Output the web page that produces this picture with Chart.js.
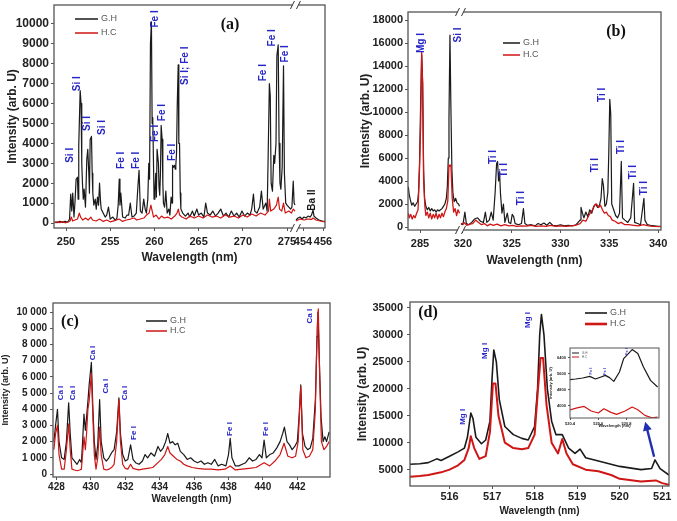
<!DOCTYPE html>
<html>
<head>
<meta charset="utf-8">
<script src="https://cdn.jsdelivr.net/npm/chart.js@4.4.1/dist/chart.umd.min.js"></script>
<style>
html, body { margin: 0; padding: 0; background: #fff; }
body { width: 677px; height: 521px; position: relative; overflow: hidden; }
canvas { position: absolute; }
</style>
</head>
<body>
<canvas id="pa" width="338" height="268" style="left:0px;top:0px"></canvas>
<canvas id="pb" width="337" height="268" style="left:340px;top:0px"></canvas>
<canvas id="pc" width="338" height="246" style="left:0px;top:275px"></canvas>
<canvas id="pd" width="337" height="246" style="left:340px;top:275px"></canvas>
<canvas id="pi" width="120" height="85" style="left:545px;top:343px"></canvas>
<script>
// ---- panel (a) : 248.6-276 nm, broken axis, 453-456 nm
const aGH = [[248.7,60],[249.0,20],[249.3,90],[249.6,30],[249.9,80],[250.2,40],[250.4,200],[250.53,1450],[250.65,600],[250.76,1500],[250.9,300],[251.02,1100],[251.14,2200],[251.29,2300],[251.37,1200],[251.44,3900],[251.6,6650],[251.7,6000],[251.78,3000],[251.86,2000],[251.95,1200],[252.05,1700],[252.2,800],[252.35,3200],[252.46,3700],[252.58,2500],[252.65,1500],[252.73,4200],[252.88,4350],[252.96,2500],[253.03,1500],[253.15,900],[253.3,1200],[253.42,700],[253.56,1300],[253.68,900],[253.79,2000],[253.9,1100],[253.98,700],[254.2,500],[254.43,300],[254.6,400],[254.8,800],[255.0,200],[255.3,300],[255.55,150],[255.76,250],[255.9,900],[256.02,2200],[256.1,900],[256.2,1500],[256.4,300],[256.7,250],[256.9,400],[257.08,400],[257.27,1000],[257.46,300],[257.7,350],[257.95,500],[258.14,1900],[258.26,2650],[258.41,600],[258.6,500],[258.79,1200],[258.95,700],[259.09,500],[259.25,1200],[259.36,3000],[259.45,2200],[259.55,9000],[259.66,10100],[259.74,5000],[259.81,5300],[259.96,1200],[260.05,1600],[260.15,2500],[260.22,1300],[260.3,3700],[260.45,3000],[260.52,1800],[260.6,1400],[260.68,2500],[260.76,4900],[260.87,4200],[260.95,2000],[261.02,1000],[261.15,800],[261.29,1600],[261.44,500],[261.63,700],[261.75,400],[261.89,1300],[262.0,1000],[262.05,2900],[262.15,2800],[262.27,2900],[262.35,2700],[262.42,2900],[262.5,3500],[262.58,5900],[262.69,7950],[262.76,4000],[262.84,4000],[262.92,1500],[262.99,700],[263.2,500],[263.5,350],[263.8,500],[264.0,300],[264.3,600],[264.5,350],[264.8,700],[265.0,400],[265.3,500],[265.6,300],[265.8,1000],[266.0,500],[266.3,400],[266.6,600],[266.9,350],[267.2,500],[267.5,700],[267.8,350],[268.1,500],[268.4,300],[268.7,600],[269.0,350],[269.3,500],[269.6,300],[269.9,600],[270.2,350],[270.5,500],[270.8,400],[271.0,700],[271.2,1450],[271.35,600],[271.6,500],[271.9,800],[272.1,1600],[272.3,700],[272.6,1000],[272.75,600],[272.85,3000],[273.0,7000],[273.1,6400],[273.2,2000],[273.35,1600],[273.5,3400],[273.6,3000],[273.75,4000],[273.85,8400],[274.0,8950],[274.1,4000],[274.2,2000],[274.3,1700],[274.45,2800],[274.6,7900],[274.7,2500],[274.85,1000],[275.0,900],[275.2,800],[275.4,700],[275.55,800],[275.7,2100],[275.8,1000],[275.9,900],
  [453.3,150],[453.5,250],[453.7,300],[453.9,200],[454.1,300],[454.3,250],[454.5,350],[454.7,300],[454.85,400],[455.0,650],[455.1,350],[455.3,250],[455.6,150],[455.9,100],[456.2,80]];
const aHC = [[248.7,0],[249.0,60],[249.3,20],[249.6,70],[249.9,10],[250.2,50],[250.45,100],[250.6,300],[250.75,100],[251.0,150],[251.3,200],[251.5,500],[251.65,300],[251.9,150],[252.2,250],[252.5,150],[252.8,300],[253.0,150],[253.4,100],[253.8,200],[254.2,80],[254.6,150],[255.0,60],[255.5,120],[256.0,200],[256.4,80],[256.8,150],[257.3,200],[257.7,250],[258.0,150],[258.4,200],[258.8,250],[259.1,400],[259.4,500],[259.6,900],[259.75,600],[259.9,300],[260.2,400],[260.5,200],[260.8,350],[261.1,250],[261.5,300],[261.9,200],[262.3,350],[262.55,500],[262.7,700],[262.85,400],[263.1,300],[263.6,200],[264.0,350],[264.5,250],[265.0,350],[265.5,250],[266.0,400],[266.5,300],[267.0,350],[267.5,250],[268.0,400],[268.5,300],[269.0,350],[269.5,250],[270.0,400],[270.5,300],[271.0,450],[271.5,350],[272.0,500],[272.5,400],[272.9,600],[273.0,1200],[273.15,600],[273.5,700],[273.8,900],[274.0,1300],[274.15,700],[274.4,600],[274.6,1000],[274.8,500],[275.2,600],[275.5,500],[275.7,700],[275.9,600],
  [453.3,100],[453.7,200],[454.1,150],[454.5,200],[454.85,180],[455.0,250],[455.3,150],[455.7,100],[456.2,60]];
const aXTicks = [250, 255, 260, 265, 270, 275, 454, 456];
const aYTicks = [0, 1000, 2000, 3000, 4000, 5000, 6000, 7000, 8000, 9000, 10000];
const aLabels = [['Si I',250.45,3400],['Si I',251.24,7000],['Si I',252.38,5000],['Si I',254.07,4800],['Fe I',256.22,3150],['Fe I',257.92,3150],['Fe I',260.07,10250],['Fe I',260.07,4500],['Fe I',260.86,5550],['Fe I',262.0,3550],['Si I; Fe I',263.46,7900],['Fe I',272.29,7550],['Fe I',273.3,9300],['Fe I',274.77,8500]];
const aBlackLabels = [['Ba II',454.9,1150]];

// ---- panel (b) : 283.8-289 nm, broken axis, 319.7-340.3 nm
const bGH = [[283.8,3500],[283.9,2800],[284.0,2400],[284.15,1900],[284.3,2100],[284.45,1800],[284.6,2000],[284.75,2200],[284.85,3000],[284.95,5500],[285.07,11000],[285.17,15000],[285.27,12500],[285.37,5000],[285.47,2500],[285.6,1800],[285.75,1500],[285.9,1700],[286.05,1400],[286.2,1600],[286.35,1400],[286.5,1500],[286.65,1300],[286.8,1500],[286.95,1400],[287.1,1500],[287.25,1600],[287.4,1800],[287.55,2000],[287.7,2500],[287.8,3500],[287.9,6000],[287.97,9500],[288.07,16700],[288.17,10200],[288.27,5000],[288.37,3000],[288.5,2200],[288.65,2500],[288.8,2100],[288.95,2000],[289.05,1800],
  [319.8,300],[320.0,200],[320.2,1300],[320.35,300],[320.6,200],[320.9,400],[321.2,700],[321.5,800],[321.8,500],[322.1,400],[322.3,1300],[322.45,400],[322.7,600],[322.9,1300],[323.1,600],[323.3,3000],[323.45,5500],[323.55,5700],[323.65,4000],[323.75,4800],[323.85,2900],[324.0,1200],[324.15,2000],[324.3,400],[324.55,1200],[324.7,400],[324.9,300],[325.05,1100],[325.2,900],[325.35,300],[325.7,200],[326.0,300],[326.2,1600],[326.35,300],[326.6,150],[327.0,200],[327.4,100],[327.7,300],[328.0,200],[328.3,350],[328.6,150],[328.9,400],[329.2,150],[329.6,100],[330.0,200],[330.4,100],[330.8,150],[331.2,100],[331.6,200],[332.0,600],[332.1,1700],[332.25,1200],[332.4,800],[332.6,1300],[332.8,900],[333.0,1500],[333.2,1200],[333.4,1800],[333.6,2000],[333.8,1700],[334.0,1900],[334.15,2500],[334.28,4200],[334.4,3600],[334.55,1800],[334.7,2000],[334.85,3000],[334.95,6500],[335.05,11100],[335.15,9800],[335.25,2000],[335.45,1500],[335.65,1000],[335.85,800],[336.05,1200],[336.23,5700],[336.35,800],[336.6,600],[336.9,400],[337.2,800],[337.49,3800],[337.6,400],[337.9,300],[338.2,200],[338.55,2500],[338.65,600],[338.9,200],[339.2,150],[339.6,100],[340.0,50],[340.3,50]];
const bHC = [[283.8,1200],[283.9,800],[284.05,1100],[284.2,700],[284.35,1000],[284.5,800],[284.65,1200],[284.8,1500],[284.95,5000],[285.07,9000],[285.17,15200],[285.27,12500],[285.37,4000],[285.5,1800],[285.6,1000],[285.75,1300],[285.9,800],[286.05,1200],[286.2,700],[286.35,1100],[286.5,800],[286.65,1200],[286.8,700],[286.95,1100],[287.1,800],[287.25,1200],[287.4,900],[287.55,1300],[287.7,1600],[287.85,2300],[287.97,5400],[288.07,5300],[288.17,5400],[288.3,2500],[288.45,1300],[288.6,1600],[288.75,1000],[288.9,1500],[289.05,1200],
  [319.8,200],[320.1,400],[320.4,150],[320.7,250],[321.0,300],[321.3,600],[321.6,400],[321.9,200],[322.2,300],[322.5,100],[322.8,250],[323.1,150],[323.5,250],[323.9,100],[324.3,200],[324.7,100],[325.1,150],[325.5,50],[326.0,100],[326.5,80],[327.0,150],[327.5,50],[328.0,100],[328.5,50],[329.0,150],[329.5,50],[330.0,100],[330.5,50],[331.0,100],[331.5,150],[332.0,300],[332.3,600],[332.6,500],[332.9,1000],[333.1,1300],[333.3,1500],[333.5,1900],[333.7,2000],[333.9,1700],[334.1,1900],[334.3,1500],[334.5,1200],[334.7,1300],[334.9,1000],[335.1,900],[335.3,600],[335.6,500],[335.9,300],[336.2,400],[336.6,200],[337.0,200],[337.5,150],[338.0,100],[338.5,200],[339.0,100],[339.5,60],[340.3,30]];
const bXTicks = [285, 320, 325, 330, 335, 340];
const bYTicks = [0, 2000, 4000, 6000, 8000, 10000, 12000, 14000, 16000, 18000];
const bLabels = [['Mg I',285.1,16000],['Si I',288.92,16700],['Ti I',323.13,6090],['Ti I',324.25,4950],['Ti I',325.99,2520],['Ti I',333.57,5390],['Ti I',334.28,11500],['Ti I',336.23,6960],['Ti I',337.46,4780],['Ti I',338.58,3390]];

// ---- panel (c) : 428-444 nm
const cGH = [[427.85,2000],[427.95,3000],[428.06,4000],[428.15,2000],[428.3,1000],[428.45,900],[428.58,2000],[428.71,4400],[428.8,2500],[428.9,1000],[429.05,800],[429.2,600],[429.35,900],[429.45,700],[429.52,2000],[429.6,3700],[429.68,2700],[429.75,3500],[429.83,4500],[429.9,5500],[430.03,6900],[430.12,4000],[430.2,2000],[430.3,900],[430.4,1800],[430.51,4600],[430.6,2000],[430.75,1000],[430.9,800],[431.05,1000],[431.2,1300],[431.35,1500],[431.5,2600],[431.63,4700],[431.72,2500],[431.85,1200],[432.0,800],[432.15,900],[432.31,1800],[432.45,900],[432.6,700],[432.8,600],[433.0,800],[433.15,1200],[433.3,1000],[433.5,1300],[433.7,1100],[433.9,1700],[434.05,1400],[434.2,1600],[434.35,2000],[434.47,2500],[434.6,1900],[434.75,2000],[434.9,1800],[435.05,1900],[435.2,1400],[435.4,1200],[435.6,900],[435.8,1000],[436.0,800],[436.2,700],[436.4,800],[436.6,600],[436.8,700],[437.0,600],[437.2,900],[437.4,500],[437.6,600],[437.85,500],[438.0,1200],[438.1,2200],[438.2,1000],[438.4,500],[438.6,500],[438.8,600],[439.0,700],[439.2,1000],[439.4,800],[439.6,900],[439.8,1200],[439.95,1000],[440.07,2100],[440.2,1000],[440.4,1200],[440.6,1300],[440.8,1600],[441.0,2000],[441.15,2500],[441.25,2900],[441.4,2000],[441.55,1800],[441.7,1500],[441.85,1700],[442.0,2000],[442.1,3500],[442.2,5500],[442.3,2500],[442.45,1700],[442.6,1500],[442.75,1600],[442.9,2200],[443.05,4600],[443.15,8500],[443.2,10000],[443.28,7000],[443.38,3500],[443.5,2000],[443.6,2300],[443.7,2000],[443.85,2600]];
const cHC = [[427.85,1500],[427.95,2500],[428.06,3000],[428.15,1200],[428.3,300],[428.45,300],[428.58,1500],[428.71,3100],[428.8,1500],[428.9,300],[429.05,250],[429.2,200],[429.35,250],[429.45,300],[429.52,1200],[429.6,2300],[429.68,1500],[429.75,2500],[429.83,4000],[429.9,4500],[430.03,6200],[430.12,3500],[430.2,1200],[430.3,300],[430.4,1000],[430.51,2900],[430.6,1200],[430.75,300],[430.9,250],[431.05,300],[431.2,400],[431.35,600],[431.5,2000],[431.63,4600],[431.72,2000],[431.85,600],[432.0,350],[432.15,300],[432.31,600],[432.45,350],[432.6,300],[432.8,250],[433.0,300],[433.3,350],[433.6,400],[433.9,700],[434.1,900],[434.3,1200],[434.47,1700],[434.6,1300],[434.8,1100],[435.0,900],[435.2,800],[435.4,600],[435.6,500],[435.9,400],[436.2,350],[436.6,300],[437.0,300],[437.4,250],[437.8,300],[438.1,500],[438.4,250],[438.8,300],[439.2,350],[439.6,400],[440.07,700],[440.4,500],[440.7,800],[441.0,1200],[441.23,1900],[441.45,1100],[441.7,1000],[441.9,1100],[442.05,2000],[442.2,5400],[442.32,1500],[442.5,1000],[442.7,1100],[442.9,1500],[443.05,4000],[443.15,9000],[443.22,10200],[443.3,6000],[443.4,2000],[443.55,1500],[443.7,1700],[443.85,2000]];
const cXTicks = [428, 430, 432, 434, 436, 438, 440, 442];
const cYTicks = [0, 1000, 2000, 3000, 4000, 5000, 6000, 7000, 8000, 9000, 10000];
const cLabels = [['Ca I',428.23,5000],['Ca I',428.93,5000],['Ca I',430.09,7470],['Ca I',430.84,5430],['Ca I',432.0,5000],['Fe I',432.52,2530],['Fe I',438.08,2780],['Fe I',440.17,2780],['Ca I',442.72,9750]];

// ---- panel (d) : 515-521 nm
const dGH = [[515.07,6000],[515.3,6100],[515.5,6300],[515.7,7000],[515.8,6700],[516.0,7500],[516.2,8300],[516.35,9000],[516.42,11000],[516.5,15500],[516.55,14500],[516.62,11000],[516.75,9800],[516.85,10500],[516.95,14000],[517.0,22000],[517.04,27200],[517.1,25000],[517.17,18000],[517.3,13000],[517.5,11500],[517.7,10800],[517.85,10500],[518.0,13000],[518.07,20000],[518.12,30000],[518.16,33800],[518.22,30000],[518.3,20000],[518.4,14000],[518.5,11500],[518.65,11500],[518.8,9000],[518.95,8000],[519.07,8800],[519.2,7200],[519.5,6600],[520.0,5600],[520.5,5000],[520.75,5200],[520.83,6800],[520.95,5200],[521.16,4000]];
const dHC = [[515.07,3700],[515.3,3800],[515.5,4000],[515.8,4500],[516.0,5000],[516.2,5800],[516.35,6800],[516.45,9000],[516.5,11200],[516.58,9000],[516.7,7000],[516.85,7500],[516.95,12000],[517.02,21000],[517.08,21000],[517.15,15000],[517.3,10000],[517.5,9000],[517.7,8800],[517.85,9000],[518.0,11500],[518.08,20000],[518.14,25700],[518.2,25700],[518.28,17000],[518.4,10000],[518.55,8000],[518.65,10700],[518.75,8000],[518.9,6000],[519.2,5000],[519.5,4700],[519.8,4000],[520.0,3300],[520.5,2800],[520.85,3000],[521.0,2500],[521.16,2200]];
const dXTicks = [516, 517, 518, 519, 520, 521];
const dYTicks = [5000, 10000, 15000, 20000, 25000, 30000, 35000];
const dLabels = [['Mg I',516.3,14800],['Mg I',516.84,27040],['Mg I',517.84,32780]];

// ---- inset of (d) : zoom round 520.8 nm
const iGH = [[520.4,5300],[520.44,5330],[520.49,5380],[520.54,5460],[520.58,5330],[520.62,5430],[520.65,5510],[520.68,5400],[520.71,5210],[520.75,5680],[520.78,6350],[520.84,6800],[520.88,6600],[520.92,5930],[520.97,5260],[521.02,4930]];
const iHC = [[520.4,3790],[520.45,3890],[520.5,3960],[520.55,3730],[520.6,3630],[520.64,3840],[520.69,3660],[520.73,3560],[520.79,3730],[520.84,3930],[520.88,3790],[520.93,3510],[520.98,3390],[521.02,3430]];
const iXTicks = [520.4, 520.6, 520.8];
const iYTicks = [4000, 4800, 5600, 6400];
const iLabels = [['Fe I',520.55,5730],['Fe I',520.65,5700],['Fe I',520.8,6700]];

const SANS = '"Liberation Sans", Arial, sans-serif';
const SERIF = '"Liberation Serif", "Times New Roman", serif';
const BLUE = '#2626c8';
const INK = '#1a1a1a';
const FRAME = '#555';

function mapA(w) { return w < 400 ? w : 275.9 + (w - 453.2) * 1.131; }
function mapB(w) { return w < 300 ? w : w - 30.6; }
function same(w) { return w; }

// build points, with a null gap where the wavelength jumps across an axis break
function pts(pairs, map) {
  const out = [];
  pairs.forEach((p, i) => {
    if (i > 0 && p[0] - pairs[i - 1][0] > 10) out.push({ x: (map(p[0]) + map(pairs[i - 1][0])) / 2, y: null });
    out.push({ x: map(p[0]), y: p[1] });
  });
  return out;
}

function spaced(v) {
  return v >= 1000 ? Math.floor(v / 1000) + ' ' + String(v % 1000).padStart(3, '0') : String(v);
}

const decor = {};

const decorPlugin = {
  id: 'decor',
  beforeDraw(chart) {
    const d = decor[chart.canvas.id];
    const a = chart.chartArea;
    if (d.fillArea) {
      chart.ctx.save();
      chart.ctx.fillStyle = '#fff';
      chart.ctx.fillRect(a.left, a.top, a.width, a.height);
      chart.ctx.restore();
    }
  },
  afterDraw(chart) {
    const d = decor[chart.canvas.id];
    const ctx = chart.ctx;
    const a = chart.chartArea;
    const xs = chart.scales.x, ys = chart.scales.y;
    ctx.save();
    ctx.strokeStyle = FRAME;
    ctx.lineWidth = d.frameW;
    ctx.strokeRect(a.left, a.top, a.width, a.height);

    if (d.breakAt != null) {
      const bx = xs.getPixelForValue(d.breakAt);
      [a.top, a.bottom].forEach(y => {
        ctx.fillStyle = '#fff';
        ctx.fillRect(bx - 3, y - 2, 6, 4);
        ctx.strokeStyle = '#333';
        ctx.lineWidth = 1;
        ctx.beginPath();
        ctx.moveTo(bx - 5, y + 4); ctx.lineTo(bx - 1, y - 4);
        ctx.moveTo(bx + 1, y + 4); ctx.lineTo(bx + 5, y - 4);
        ctx.stroke();
      });
    }

    const drawLabels = (list, color) => {
      ctx.fillStyle = color;
      ctx.font = 'bold ' + d.labelSize + 'px ' + SANS;
      ctx.textAlign = 'center';
      ctx.textBaseline = 'middle';
      list.forEach(l => {
        const px = xs.getPixelForValue(d.map(l[1]));
        const py = ys.getPixelForValue(l[2]);
        ctx.save();
        ctx.translate(px, py);
        ctx.rotate(-Math.PI / 2);
        ctx.fillText(l[0], 0, 0);
        ctx.restore();
      });
    };
    drawLabels(d.labels, BLUE);
    if (d.blackLabels) drawLabels(d.blackLabels, INK);

    if (d.legend) {
      const g = d.legend;
      ctx.lineWidth = g.lw;
      [[INK, g.y0, 'G.H', g.lw], [ '#d01515', g.y1, 'H.C', g.lwRed]].forEach(r => {
        ctx.strokeStyle = r[0];
        ctx.lineWidth = r[3];
        ctx.beginPath();
        ctx.moveTo(a.left + g.x0, a.top + r[1]);
        ctx.lineTo(a.left + g.x1, a.top + r[1]);
        ctx.stroke();
        ctx.fillStyle = '#555';
        ctx.font = g.size + 'px ' + SANS;
        ctx.textAlign = 'left';
        ctx.textBaseline = 'middle';
        ctx.fillText(r[2], a.left + g.x1 + 3, a.top + r[1]);
      });
    }

    if (d.tag) {
      ctx.fillStyle = '#111';
      ctx.font = 'bold 16px ' + SERIF;
      ctx.textAlign = 'center';
      ctx.textBaseline = 'middle';
      ctx.fillText(d.tag[0], a.left + d.tag[1], a.top + d.tag[2]);
    }

    if (d.arrow) {
      const x0 = xs.getPixelForValue(d.arrow[0]), y0 = ys.getPixelForValue(d.arrow[1]);
      const x1 = xs.getPixelForValue(d.arrow[2]), y1 = ys.getPixelForValue(d.arrow[3]);
      const ang = Math.atan2(y1 - y0, x1 - x0);
      ctx.strokeStyle = '#2030b0';
      ctx.fillStyle = '#2030b0';
      ctx.lineWidth = 2.4;
      ctx.beginPath();
      ctx.moveTo(x0, y0);
      ctx.lineTo(x1 - 5 * Math.cos(ang), y1 - 5 * Math.sin(ang));
      ctx.stroke();
      ctx.beginPath();
      ctx.moveTo(x1, y1);
      ctx.lineTo(x1 - 9 * Math.cos(ang) + 4.5 * Math.sin(ang), y1 - 9 * Math.sin(ang) - 4.5 * Math.cos(ang));
      ctx.lineTo(x1 - 9 * Math.cos(ang) - 4.5 * Math.sin(ang), y1 - 9 * Math.sin(ang) + 4.5 * Math.cos(ang));
      ctx.closePath();
      ctx.fill();
    }
    ctx.restore();
  }
};

function makePanel(id, p) {
  decor[id] = p;
  return new Chart(document.getElementById(id), {
    type: 'line',
    data: {
      datasets: [
        { label: 'G.H', data: pts(p.gh, p.map), borderColor: INK, borderWidth: p.lw, order: 2 },
        { label: 'H.C', data: pts(p.hc, p.map), borderColor: '#d01515', borderWidth: p.lwRed, order: 1 }
      ]
    },
    options: {
      responsive: false,
      animation: false,
      devicePixelRatio: 1,
      parsing: false,
      spanGaps: false,
      elements: { point: { radius: 0 }, line: { tension: 0, borderJoinStyle: 'round' } },
      layout: { autoPadding: false, padding: { left: 0, top: p.padTop, right: p.padRight, bottom: 0 } },
      plugins: { legend: { display: false }, tooltip: { enabled: false } },
      scales: {
        x: {
          type: 'linear',
          min: p.xMin, max: p.xMax,
          afterBuildTicks: s => { s.ticks = p.xTicks.map(v => ({ value: p.map(v) })); },
          afterFit: s => { s.height = p.xH; s.paddingLeft = 0; s.paddingRight = 0; },
          ticks: {
            callback: (v, i) => String(p.xTicks[i]),
            font: { family: SANS, size: p.xTickSize, weight: 'bold' },
            color: '#222', padding: p.xTickPad, maxRotation: 0, autoSkip: false
          },
          grid: { drawOnChartArea: false, tickLength: p.tickLen, color: FRAME, lineWidth: 1 },
          border: { display: false },
          title: {
            display: true, text: p.xTitle || 'Wavelength (nm)',
            font: { family: SANS, size: p.xTitleSize, weight: 'bold' },
            color: '#222', padding: { top: 0, bottom: p.xTitlePad }
          }
        },
        y: {
          type: 'linear',
          min: p.yMin, max: p.yMax,
          afterBuildTicks: s => { s.ticks = p.yTicks.map(v => ({ value: v })); },
          afterFit: s => { s.width = p.yW; s.paddingTop = 0; s.paddingBottom = 0; },
          ticks: {
            callback: v => p.spaced ? spaced(v) : String(v),
            font: { family: SANS, size: p.yTickSize, weight: 'bold' },
            color: '#222', padding: p.yTickPad, autoSkip: false
          },
          grid: { drawOnChartArea: false, tickLength: p.tickLen, color: FRAME, lineWidth: 1 },
          border: { display: false },
          title: {
            display: true, text: p.yTitle || 'Intensity (arb. U)',
            font: { family: SANS, size: p.yTitleSize, weight: 'bold' },
            color: '#222', padding: { top: p.yTitlePad, bottom: 0 }
          }
        }
      }
    },
    plugins: [decorPlugin]
  });
}

makePanel('pa', {
  gh: aGH, hc: aHC, map: mapA, lw: 1.2, lwRed: 1.2,
  xMin: 248.64, xMax: mapA(456.2), yMin: -250, yMax: 10950,
  xTicks: aXTicks, yTicks: aYTicks,
  padTop: 5, padRight: 13, yW: 54, xH: 40, tickLen: 3,
  xTickSize: 11, xTickPad: 4, yTickSize: 12, yTickPad: 2,
  xTitleSize: 12, xTitlePad: 3, yTitleSize: 12, yTitlePad: 5,
  frameW: 1.3, breakAt: 275.95, labelSize: 10,
  labels: aLabels, blackLabels: aBlackLabels,
  legend: { x0: 21, x1: 44, y0: 14, y1: 28, lw: 1.5, lwRed: 1.5, size: 9 },
  tag: ['(a)', 176, 20]
});

makePanel('pb', {
  gh: bGH, hc: bHC, map: mapB, lw: 1.2, lwRed: 1.3,
  xMin: 283.77, xMax: mapB(340.3), yMin: -260, yMax: 18700,
  xTicks: bXTicks, yTicks: bYTicks,
  padTop: 12, padRight: 16, yW: 68, xH: 38, tickLen: 3,
  xTickSize: 11, xTickPad: 4, yTickSize: 11, yTickPad: 2,
  xTitleSize: 12, xTitlePad: 0, yTitleSize: 12, yTitlePad: 18,
  frameW: 1.3, breakAt: 289.15, labelSize: 10,
  labels: bLabels,
  legend: { x0: 95, x1: 112, y0: 31, y1: 43, lw: 1.5, lwRed: 1.5, size: 9 },
  tag: ['(b)', 208, 20]
});

makePanel('pc', {
  gh: cGH, hc: cHC, map: same, lw: 1.2, lwRed: 1.2,
  xMin: 427.8, xMax: 443.9, yMin: -185, yMax: 10560,
  xTicks: cXTicks, yTicks: cYTicks, spaced: true,
  padTop: 28, padRight: 8, yW: 53, xH: 44, tickLen: 3,
  xTickSize: 10, xTickPad: 1, yTickSize: 10, yTickPad: 3,
  xTitleSize: 10, xTitlePad: 16, yTitleSize: 9, yTitlePad: 0,
  frameW: 1.3, labelSize: 8,
  labels: cLabels,
  legend: { x0: 93, x1: 114, y0: 18, y1: 28, lw: 1.5, lwRed: 1.5, size: 9 },
  tag: ['(c)', 17, 19]
});

makePanel('pd', {
  gh: dGH, hc: dHC, map: same, lw: 1.6, lwRed: 2,
  xMin: 515.07, xMax: 521.16, yMin: 1963, yMax: 36111,
  xTicks: dXTicks, yTicks: dYTicks,
  padTop: 27, padRight: 8, yW: 70, xH: 35, tickLen: 3,
  xTickSize: 11, xTickPad: 1, yTickSize: 11, yTickPad: 4,
  xTitleSize: 10, xTitlePad: 4, yTitleSize: 12, yTitlePad: 15,
  frameW: 1.3, labelSize: 8,
  labels: dLabels,
  legend: { x0: 175, x1: 197, y0: 11, y1: 22, lw: 1.6, lwRed: 2.6, size: 9 },
  tag: ['(d)', 18, 11],
  arrow: [520.81, 7400, 520.6, 13900]
});

makePanel('pi', {
  gh: iGH, hc: iHC, map: same, lw: 1.2, lwRed: 1.2,
  xMin: 520.4, xMax: 521.03, yMin: 3380, yMax: 6880,
  xTicks: iXTicks, yTicks: iYTicks,
  padTop: 5, padRight: 6, yW: 25, xH: 10, tickLen: 2,
  xTickSize: 4, xTickPad: 1, yTickSize: 4, yTickPad: 2,
  xTitleSize: 4, xTitlePad: 0, yTitleSize: 4, yTitlePad: 3,
  frameW: 1, labelSize: 4, fillArea: true,
  labels: iLabels,
  legend: { x0: 2, x1: 9, y0: 5, y1: 9, lw: 1, lwRed: 1, size: 3 }
});
</script>
</body>
</html>
